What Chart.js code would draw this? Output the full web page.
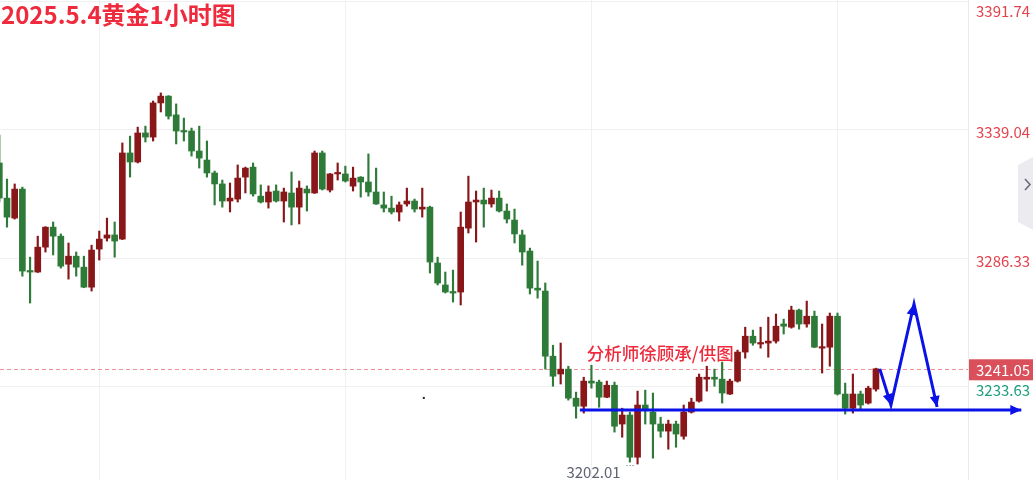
<!DOCTYPE html>
<html>
<head>
<meta charset="utf-8">
<script src="https://cdn.jsdelivr.net/npm/chart.js@4.4.0/dist/chart.umd.min.js"></script>
<style>
  html, body { margin: 0; padding: 0; background: #fff; }
  #wrap { width: 1033px; height: 480px; }
</style>
</head>
<body>
<div id="wrap"><canvas id="goldChart" width="1033" height="480"></canvas></div>
<script>
// 1 hour candles (red = up, green = down)
const opens = [3325.4, 3311.0, 3302.8, 3314.7, 3281.1, 3280.7, 3290.9, 3299.1, 3295.4, 3283.9,
  3287.2, 3282.7, 3274.5, 3290.1, 3294.6, 3295.9, 3294.2, 3329.5, 3325.8, 3337.7,
  3336.0, 3350.0, 3352.8, 3345.1, 3338.5, 3338.5, 3330.3, 3326.6, 3321.3, 3316.8,
  3309.8, 3310.6, 3319.6, 3323.7, 3311.8, 3309.4, 3313.9, 3309.8, 3313.1, 3307.3,
  3314.7, 3313.1, 3329.5, 3314.3, 3320.9, 3320.9, 3315.9, 3319.6, 3317.6, 3313.5,
  3308.2, 3306.9, 3305.3, 3308.6, 3309.8, 3306.5, 3307.3, 3284.4, 3275.4, 3272.5,
  3272.5, 3298.7, 3309.4, 3310.2, 3308.6, 3311.0, 3305.7, 3302.0, 3295.9, 3289.3,
  3274.1, 3272.9, 3246.2, 3238.9, 3240.9, 3229.0, 3225.7, 3236.0, 3235.6, 3229.4,
  3234.3, 3218.4, 3222.1, 3204.8, 3226.2, 3223.3, 3218.4, 3215.5, 3218.4, 3213.4,
  3223.3, 3227.8, 3236.8, 3237.6, 3236.8, 3230.7, 3236.0, 3247.9, 3254.4, 3251.2,
  3251.6, 3252.4, 3259.4, 3258.1, 3265.1, 3259.4, 3262.6, 3249.5, 3249.9, 3262.6,
  3230.7, 3224.9, 3230.7, 3227.0, 3232.7];
const highs = [3336.8, 3318.8, 3316.8, 3315.5, 3286.8, 3295.4, 3299.3, 3301.2, 3296.3, 3292.6,
  3288.9, 3287.2, 3291.7, 3297.5, 3302.8, 3301.2, 3333.6, 3336.4, 3340.1, 3340.5,
  3350.8, 3354.1, 3353.0, 3349.6, 3343.8, 3339.7, 3340.5, 3334.4, 3322.1, 3318.4,
  3317.2, 3324.6, 3323.7, 3325.4, 3316.4, 3316.0, 3316.4, 3315.1, 3321.7, 3318.0,
  3316.0, 3330.3, 3330.3, 3321.1, 3325.4, 3324.1, 3323.7, 3319.8, 3329.1, 3323.3,
  3313.5, 3311.8, 3309.4, 3315.1, 3310.6, 3315.1, 3307.7, 3286.8, 3280.7, 3281.5,
  3305.3, 3320.0, 3313.9, 3315.1, 3314.3, 3313.9, 3308.6, 3306.5, 3297.9, 3290.5,
  3285.2, 3276.2, 3250.7, 3251.6, 3242.1, 3231.5, 3237.6, 3242.5, 3236.4, 3236.0,
  3235.6, 3224.9, 3223.3, 3231.9, 3232.3, 3231.1, 3221.2, 3220.0, 3219.6, 3226.2,
  3229.0, 3238.9, 3242.1, 3240.9, 3243.8, 3236.8, 3248.7, 3258.1, 3256.9, 3258.1,
  3262.2, 3263.5, 3261.4, 3266.7, 3265.5, 3268.8, 3264.7, 3259.4, 3263.9, 3263.9,
  3235.2, 3238.9, 3231.9, 3233.9, 3241.3];
const lows = [3309.4, 3299.1, 3302.4, 3279.0, 3268.0, 3280.5, 3288.9, 3287.7, 3282.3, 3277.8,
  3279.0, 3274.3, 3272.9, 3285.6, 3293.4, 3286.8, 3294.0, 3319.6, 3325.4, 3334.0,
  3334.4, 3346.3, 3343.4, 3333.2, 3334.4, 3328.2, 3323.3, 3319.6, 3308.2, 3307.3,
  3305.3, 3309.4, 3313.1, 3311.8, 3309.0, 3306.9, 3309.4, 3301.2, 3300.0, 3300.4,
  3305.7, 3312.9, 3314.3, 3313.5, 3318.4, 3317.6, 3313.9, 3311.4, 3311.8, 3308.4,
  3305.3, 3304.5, 3301.6, 3307.7, 3305.3, 3303.2, 3280.3, 3275.4, 3272.1, 3268.4,
  3267.2, 3296.7, 3293.0, 3299.1, 3307.3, 3305.3, 3300.8, 3292.6, 3283.5, 3271.7,
  3270.0, 3240.9, 3233.9, 3234.8, 3228.2, 3220.8, 3222.9, 3233.1, 3225.3, 3229.2,
  3215.1, 3213.0, 3202.8, 3202.01, 3218.4, 3204.4, 3213.0, 3208.1, 3208.9, 3212.2,
  3222.9, 3227.4, 3231.9, 3233.9, 3227.0, 3230.5, 3235.6, 3245.4, 3250.7, 3249.5,
  3245.8, 3251.6, 3255.3, 3257.7, 3257.3, 3258.1, 3249.7, 3239.3, 3242.1, 3230.3,
  3222.5, 3222.9, 3224.5, 3226.6, 3231.9];
const closes = [3311.0, 3303.2, 3314.7, 3281.1, 3280.7, 3290.9, 3299.1, 3295.4, 3283.1, 3287.2,
  3282.7, 3274.5, 3289.7, 3294.2, 3295.9, 3293.4, 3329.5, 3325.8, 3337.7, 3336.0,
  3350.0, 3352.8, 3344.6, 3338.5, 3338.1, 3330.3, 3327.4, 3321.3, 3316.8, 3309.8,
  3311.0, 3319.2, 3323.3, 3312.7, 3309.4, 3313.5, 3309.8, 3313.5, 3307.3, 3315.1,
  3313.1, 3329.5, 3314.7, 3320.9, 3321.3, 3318.0, 3319.2, 3317.6, 3313.5, 3308.6,
  3306.9, 3305.3, 3308.2, 3309.8, 3306.5, 3307.3, 3284.8, 3276.2, 3272.5, 3272.1,
  3299.1, 3309.4, 3310.2, 3308.6, 3311.0, 3305.7, 3302.4, 3296.3, 3288.9, 3274.1,
  3273.3, 3246.2, 3238.0, 3240.9, 3229.0, 3225.7, 3236.0, 3235.2, 3229.4, 3234.3,
  3217.5, 3222.1, 3204.8, 3226.2, 3224.1, 3218.4, 3215.5, 3218.4, 3214.3, 3223.3,
  3227.4, 3237.6, 3237.6, 3236.8, 3231.1, 3236.0, 3247.9, 3254.4, 3251.6, 3251.6,
  3252.4, 3258.5, 3258.5, 3265.1, 3259.4, 3262.6, 3249.9, 3249.9, 3262.6, 3230.7,
  3224.9, 3230.7, 3226.2, 3233.1, 3241.05];

const priceTicks = [3391.74, 3339.04, 3286.33, 3233.63];
const gridCandles = [13, 45, 77, 109];
const lastPrice = 3241.05;
const lowPrice = 3202.01;
const lowIndex = 83;

// blue hand drawn lines (candle index, price)
const supportLine = [{x: 75.5, y: 3224.2}, {x: 132.9, y: 3224.2}];
const forecastPath = [{x: 114.5, y: 3241.0}, {x: 115.95, y: 3226.2}, {x: 118.95, y: 3267.6}, {x: 121.95, y: 3225.4}];

const titleText = '2025.5.4黄金1小时图';
const noteText = '分析师徐顾承/供图';

const upColor = '#891619';
const downColor = '#2e7a39';
const blue = '#0a12e8';
const cjk = '"Noto Sans CJK SC", "Noto Sans", sans-serif';

const candleColors = closes.map((c, i) => c >= opens[i] ? upColor : downColor);

function arrowHead(ctx, x0, y0, x1, y1) {
    const a = Math.atan2(y1 - y0, x1 - x0);
    const len = 11, half = 5;
    ctx.beginPath();
    ctx.moveTo(x1, y1);
    ctx.lineTo(x1 - len * Math.cos(a) + half * Math.sin(a), y1 - len * Math.sin(a) - half * Math.cos(a));
    ctx.lineTo(x1 - len * Math.cos(a) - half * Math.sin(a), y1 - len * Math.sin(a) + half * Math.cos(a));
    ctx.closePath();
    ctx.fill();
}

const decor = {
    id: 'decor',
    beforeDatasetsDraw(chart) {
        const {ctx, chartArea, scales: {y}} = chart;
        const py = Math.round(y.getPixelForValue(lastPrice)) + 0.5;
        ctx.save();
        ctx.strokeStyle = '#ef8f95';
        ctx.lineWidth = 1;
        ctx.setLineDash([4, 3]);
        ctx.beginPath();
        ctx.moveTo(chartArea.left, py);
        ctx.lineTo(chartArea.right, py);
        ctx.stroke();
        ctx.restore();
    },
    afterDraw(chart) {
        const {ctx, chartArea, scales: {x, y}} = chart;
        const W = chart.width;
        ctx.save();

        // arrow heads
        ctx.fillStyle = blue;
        const s0 = supportLine[0], s1 = supportLine[1];
        arrowHead(ctx, x.getPixelForValue(s0.x), y.getPixelForValue(s0.y), x.getPixelForValue(s1.x), y.getPixelForValue(s1.y));
        for (let i = 1; i < forecastPath.length; i++) {
            const p = forecastPath[i - 1], q = forecastPath[i];
            arrowHead(ctx, x.getPixelForValue(p.x), y.getPixelForValue(p.y), x.getPixelForValue(q.x), y.getPixelForValue(q.y));
        }

        // price labels on the right
        ctx.font = '15px ' + cjk;
        ctx.textAlign = 'left';
        ctx.textBaseline = 'middle';
        priceTicks.forEach((v, i) => {
            const py = Math.max(y.getPixelForValue(v) + 3, 11);
            ctx.fillStyle = i === 3 ? '#1c9e7c' : '#e2434d';
            ctx.fillText(v.toFixed(2), chartArea.right + 8, py);
        });

        // last price box
        const lp = y.getPixelForValue(lastPrice);
        ctx.fillStyle = '#d94f5a';
        ctx.fillRect(chartArea.right + 1, lp - 9.5, W - chartArea.right - 1, 21);
        ctx.fillStyle = '#ffffff';
        ctx.fillText(lastPrice.toFixed(2), chartArea.right + 8, lp + 1.5);

        // low marker
        const lx = x.getPixelForValue(lowIndex), ly = y.getPixelForValue(lowPrice);
        ctx.fillStyle = '#5e6272';
        ctx.textAlign = 'right';
        ctx.fillText(lowPrice.toFixed(2), lx - 17, ly + 8);
        for (let d = 0; d < 3; d++) ctx.fillRect(lx - 11 + d * 3, ly + 1, 1, 1);

        // side tab
        ctx.fillStyle = '#ececf0';
        ctx.beginPath();
        ctx.moveTo(1018, 165); ctx.lineTo(W, 157); ctx.lineTo(W, 230); ctx.lineTo(1018, 222);
        ctx.closePath();
        ctx.fill();
        ctx.strokeStyle = '#6b6c7a';
        ctx.lineWidth = 1.6;
        ctx.beginPath();
        ctx.moveTo(1025, 179); ctx.lineTo(1030, 184.5); ctx.lineTo(1025, 190);
        ctx.stroke();

        // stray dot
        ctx.fillStyle = '#222';
        ctx.fillRect(x.getPixelForValue(55.2) - 1, y.getPixelForValue(3229.1) - 1, 2, 2);

        // texts
        ctx.textAlign = 'left';
        ctx.fillStyle = '#ee2a3c';
        ctx.font = '500 17.5px ' + cjk;
        ctx.fillText(noteText, x.getPixelForValue(76.4), y.getPixelForValue(3247.5));
        ctx.font = 'bold 24px ' + cjk;
        ctx.fillText(titleText, 1, 15);
        ctx.restore();
    }
};

new Chart(document.getElementById('goldChart'), {
    type: 'bar',
    data: {
        datasets: [{
            type: 'line',
            data: supportLine,
            borderColor: blue,
            borderWidth: 3,
            pointRadius: 0,
            clip: false,
            order: 0
        }, {
            type: 'line',
            data: forecastPath,
            borderColor: blue,
            borderWidth: 3,
            pointRadius: 0,
            tension: 0,
            clip: false,
            order: 0
        }, {
            data: opens.map((o, i) => ({x: i, y: [o, closes[i]]})),
            backgroundColor: candleColors,
            barThickness: 6,
            minBarLength: 1.5,
            grouped: false,
            order: 1
        }, {
            data: lows.map((l, i) => ({x: i, y: [l, highs[i]]})),
            backgroundColor: candleColors,
            barThickness: 1.5,
            grouped: false,
            order: 2
        }]
    },
    options: {
        responsive: false,
        animation: false,
        devicePixelRatio: 1,
        layout: { padding: 0 },
        plugins: { legend: { display: false }, tooltip: { enabled: false } },
        scales: {
            x: {
                type: 'linear',
                min: 0.09,
                max: 125.97,
                offset: false,
                ticks: { display: false },
                grid: { color: '#f0f0f3', drawTicks: false, offset: false },
                border: { display: false },
                afterBuildTicks: s => { s.ticks = gridCandles.map(v => ({value: v})); },
                afterFit: s => { s.height = 0; }
            },
            y: {
                position: 'right',
                min: 3195.47,
                max: 3392.19,
                ticks: { display: false },
                grid: { color: '#f0f0f3', drawTicks: false },
                border: { display: true, color: '#e9e9ee' },
                afterBuildTicks: s => { s.ticks = priceTicks.map(v => ({value: v})); },
                afterFit: s => { s.width = 65; }
            }
        }
    },
    plugins: [decor]
});
</script>
</body>
</html>
